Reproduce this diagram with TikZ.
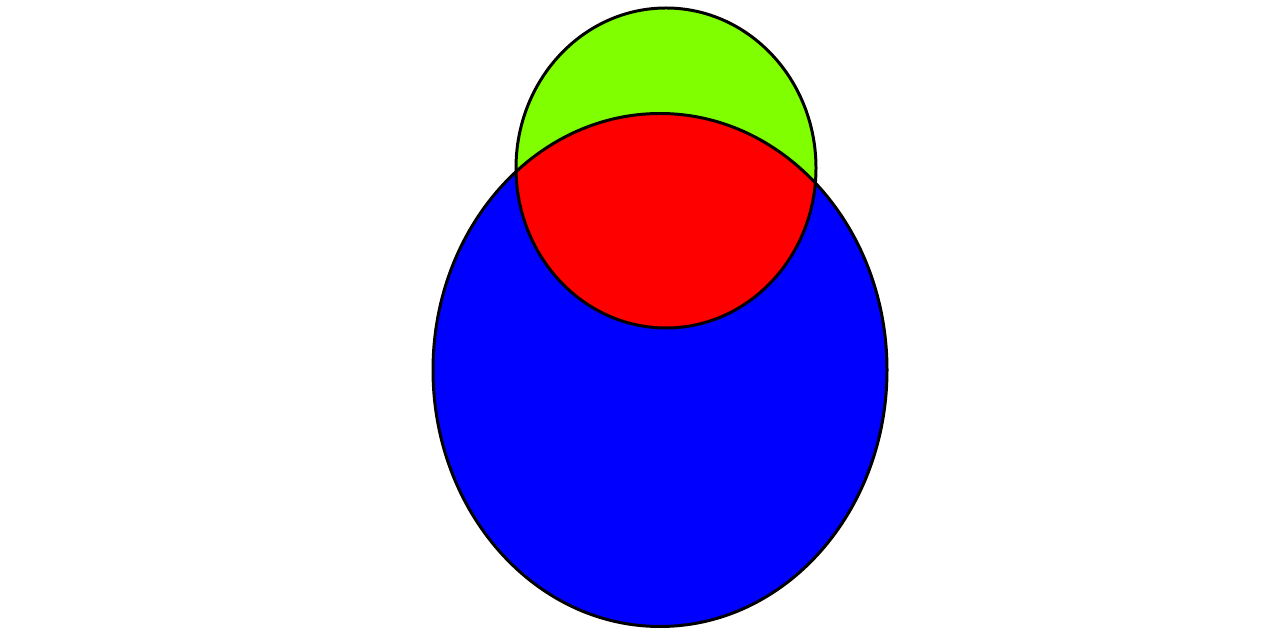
\documentclass[tikz,border=0pt]{standalone}
\usepackage{tikz}
\usepackage{xcolor}
\usetikzlibrary{
    calc
}
\definecolor{setA}{RGB}{128,255,0}
\definecolor{setB}{RGB}{0,0,255}
\definecolor{setAB}{RGB}{255,0,0}
\tikzset{
  outline/.style = {draw=black, line width=1.7pt}
}
\newcommand{\shapeA}{(13.32,9.20) ellipse [x radius=3.00, y radius=3.20]}
\newcommand{\shapeB}{(13.20,5.16) ellipse [x radius=4.54, y radius=5.13]}

\begin{document}
\begin{tikzpicture}
  \useasboundingbox (0,0) rectangle (25.32,12.56);

  %% ── Fills ─────────────────────────────────────────────────────
  \fill[setB] \shapeB;
  \fill[setA] \shapeA;
  \begin{scope}
    \clip \shapeA;
    \fill[setAB] \shapeB;   % A and B
  \end{scope}

  %% ── Outlines ──────────────────────────────────────────────────
  \draw[outline] \shapeB;
  \draw[outline] \shapeA;

\end{tikzpicture}
\end{document}
